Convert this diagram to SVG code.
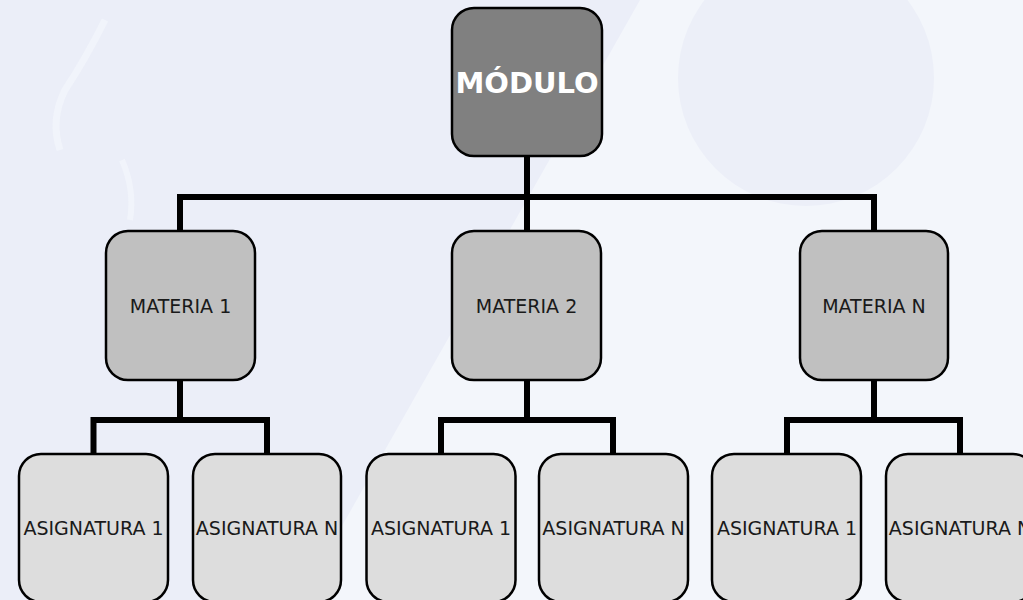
<svg xmlns="http://www.w3.org/2000/svg" width="1023" height="600" viewBox="0 0 1023 600">
<style>
.box{stroke:#000;stroke-width:2.5}
.mod{fill:#808080}
.mat{fill:#c0c0c0}
.asg{fill:#dddddd}
.lbl{font-family:"DejaVu Sans",Verdana,sans-serif;font-size:19px;fill:#1a1a1a;text-anchor:middle}
.big{font-family:"DejaVu Sans",Verdana,sans-serif;font-size:29px;font-weight:bold;fill:#ffffff;text-anchor:middle}
.con{fill:none;stroke:#000;stroke-width:6;stroke-linejoin:miter;stroke-linecap:square}
</style>
<rect x="0" y="0" width="1023" height="600" fill="#ebeef8"/>
<polygon points="640,0 1023,0 1023,600 300,600" fill="#f3f6fb"/>
<circle cx="806" cy="78" r="128" fill="#eceff8"/>
<path d="M105,20 Q85,60 65,90 Q50,120 60,150" fill="none" stroke="#f4f6fc" stroke-width="7" opacity="0.7"/>
<path d="M122,160 Q135,190 130,220" fill="none" stroke="#f4f6fc" stroke-width="6" opacity="0.7"/>
<g id="connectors">
<path class="con" d="M527,156 V197 M180,231 V197 H874 V231 M527,197 V231"/>
<path class="con" d="M180,380 V420 M93.5,454 V420 H267 V454"/>
<path class="con" d="M527,380 V420 M441,454 V420 H613 V454"/>
<path class="con" d="M874,380 V420 M787,454 V420 H960 V454"/>
</g>
<g id="modulo"><rect class="box mod" x="452" y="8" width="150" height="148" rx="22"/><text class="big" x="527" y="93">MÓDULO</text></g>
<g id="materia1"><rect class="box mat" x="106" y="231" width="149" height="149" rx="22"/><text class="lbl" x="180.5" y="313">MATERIA 1</text></g>
<g id="materia2"><rect class="box mat" x="452" y="231" width="149" height="149" rx="22"/><text class="lbl" x="526.5" y="313">MATERIA 2</text></g>
<g id="materiaN"><rect class="box mat" x="800" y="231" width="148" height="149" rx="22"/><text class="lbl" x="874" y="313">MATERIA N</text></g>
<g id="asig1a"><rect class="box asg" x="19" y="454" width="149" height="148" rx="22"/><text class="lbl" x="93.5" y="535">ASIGNATURA 1</text></g>
<g id="asigNa"><rect class="box asg" x="193" y="454" width="148" height="148" rx="22"/><text class="lbl" x="267" y="535">ASIGNATURA N</text></g>
<g id="asig1b"><rect class="box asg" x="366.5" y="454" width="149" height="148" rx="22"/><text class="lbl" x="441" y="535">ASIGNATURA 1</text></g>
<g id="asigNb"><rect class="box asg" x="539" y="454" width="149" height="148" rx="22"/><text class="lbl" x="613.5" y="535">ASIGNATURA N</text></g>
<g id="asig1c"><rect class="box asg" x="712" y="454" width="149" height="148" rx="22"/><text class="lbl" x="787" y="535">ASIGNATURA 1</text></g>
<g id="asigNc"><rect class="box asg" x="886" y="454" width="149" height="148" rx="22"/><text class="lbl" x="960" y="535">ASIGNATURA N</text></g>
</svg>
